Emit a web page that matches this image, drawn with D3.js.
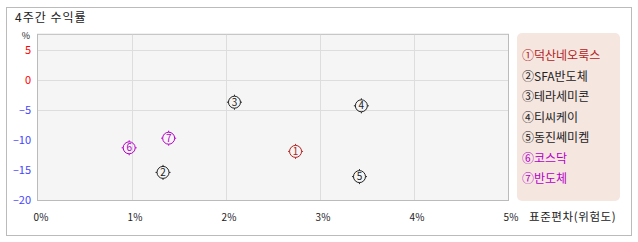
<!DOCTYPE html>
<html>
<head>
<meta charset="utf-8">
<script src="https://cdn.jsdelivr.net/npm/d3@7"></script>
<style>
  body { margin: 0; background: #fff; }
  text { font-family: "Noto Sans CJK KR", "DejaVu Sans", sans-serif; }
</style>
</head>
<body>
<script>
var width = 638,
  height = 242;

// data
var names = ["덕산네오룩스", "SFA반도체", "테라세미콘", "티씨케이", "동진쎄미켐", "코스닥", "반도체"];
var risk = [2.74, 1.33, 2.09, 3.44, 3.42, 0.97, 1.39];      // 표준편차 %
var returns = [-11.9, -15.4, -3.7, -4.3, -16.1, -11.3, -9.7]; // 4주간 수익률 %
var colors = ["#b22222", "#222", "#222", "#222", "#222", "#b400c8", "#b400c8"];
var xTicks = [0, 1, 2, 3, 4, 5];
var yTicks = [5, 0, -5, -10, -15, -20];
var gridY = [5, 0, -5];
var circled = ["①", "②", "③", "④", "⑤", "⑥", "⑦"];

var svg = d3.select("body").append("svg")
  .attr("width", width)
  .attr("height", height);

// outer frame
svg.append("rect")
  .attr("x", 6.5).attr("y", 7.5)
  .attr("width", 625).attr("height", 228)
  .attr("fill", "#fff")
  .attr("stroke", "#bbb");

svg.append("text")
  .attr("x", 15).attr("y", 22)
  .attr("font-size", 12)
  .attr("letter-spacing", 1)
  .attr("fill", "#222")
  .text("4주간 수익률");

var x = d3.scaleLinear().domain([0, 5]).range([38, 508]);
var y = d3.scaleLinear().domain([-20, 5]).range([200, 50]);

// plot area
svg.append("rect")
  .attr("x", x(0) - 0.5).attr("y", y(7.7) + 0.5)
  .attr("width", x(5) - x(0) + 1).attr("height", y(-20) - y(7.7))
  .attr("fill", "#f5f5f5")
  .attr("stroke", "#bbb");

svg.append("g").selectAll("line")
  .data(gridY)
  .enter().append("line")
  .attr("x1", x(0)).attr("x2", x(5))
  .attr("y1", function (d) { return Math.round(y(d)) + 0.5; })
  .attr("y2", function (d) { return Math.round(y(d)) + 0.5; })
  .attr("stroke", "#ddd");

svg.append("g").selectAll("line")
  .data(xTicks.slice(1, 5))
  .enter().append("line")
  .attr("x1", function (d) { return Math.round(x(d)) + 0.5; })
  .attr("x2", function (d) { return Math.round(x(d)) + 0.5; })
  .attr("y1", y(7.7) + 1).attr("y2", y(-20))
  .attr("stroke", "#ddd");

// y labels
svg.append("g").selectAll("text")
  .data(yTicks)
  .enter().append("text")
  .attr("x", 31)
  .attr("y", function (d) { return y(d) + 4; })
  .attr("text-anchor", "end")
  .attr("font-size", 11)
  .attr("fill", function (d) { return d >= 0 ? "#ff0000" : "#4444ff"; })
  .text(function (d) { return d < 0 ? "\u2013" + (-d) : d; });

svg.append("text")
  .attr("x", 26).attr("y", 39)
  .attr("text-anchor", "middle")
  .attr("font-size", 9)
  .attr("fill", "#222")
  .text("%");

// x labels
svg.append("g").selectAll("text")
  .data(xTicks)
  .enter().append("text")
  .attr("x", function (d) { return x(d) + 3; })
  .attr("y", 221)
  .attr("text-anchor", "middle")
  .attr("font-size", 10)
  .attr("fill", "#222")
  .text(function (d) { return d + "%"; });

svg.append("text")
  .attr("x", 529).attr("y", 221)
  .attr("font-size", 11.5)
  .attr("letter-spacing", 0.6)
  .attr("fill", "#222")
  .text("표준편차(위험도)");

// points
var pts = svg.append("g").selectAll("g")
  .data(names)
  .enter().append("g")
  .attr("transform", function (d, i) {
    return "translate(" + x(risk[i]) + "," + y(returns[i]) + ")";
  });

pts.append("circle")
  .attr("r", 6)
  .attr("fill", "none")
  .attr("stroke", function (d, i) { return colors[i]; });

pts.selectAll("line")
  .data(function (d, i) {
    return [[0, -6, 0, -7.5, i], [0, 6, 0, 7.5, i], [-6, 0, -7.5, 0, i], [6, 0, 7.5, 0, i]];
  })
  .enter().append("line")
  .attr("x1", function (d) { return d[0]; })
  .attr("y1", function (d) { return d[1]; })
  .attr("x2", function (d) { return d[2]; })
  .attr("y2", function (d) { return d[3]; })
  .attr("stroke", function (d) { return colors[d[4]]; });

pts.append("text")
  .attr("y", 3.5)
  .attr("text-anchor", "middle")
  .attr("font-size", 10)
  .attr("fill", function (d, i) { return colors[i]; })
  .text(function (d, i) { return i + 1; });

// legend
svg.append("rect")
  .attr("x", 517).attr("y", 33)
  .attr("width", 103).attr("height", 168)
  .attr("rx", 5)
  .attr("fill", "#f5e6e0");

svg.append("g").selectAll("text")
  .data(names)
  .enter().append("text")
  .attr("x", 522)
  .attr("y", function (d, i) { return 60 + i * 20.5; })
  .attr("font-size", 12)
  .attr("fill", function (d, i) { return colors[i]; })
  .text(function (d, i) { return circled[i] + d; });
</script>
</body>
</html>
